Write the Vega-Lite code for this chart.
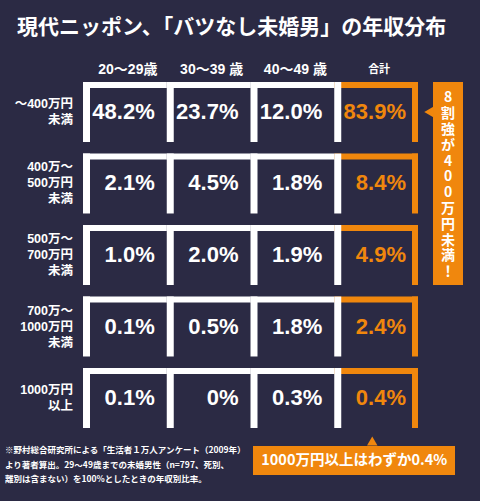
{
  "$schema": "https://vega.github.io/schema/vega-lite/v6.json",
  "width": 335,
  "height": 346,
  "autosize": "none",
  "padding": {"left": 83, "top": 82, "right": 62, "bottom": 73},
  "background": "#2b2a44",
  "config": {"view": {"stroke": null}},
  "title": {
    "text": "現代ニッポン、「バツなし未婚男」の年収分布",
    "anchor": "start",
    "frame": "group",
    "dx": -66,
    "offset": 25,
    "font": "Noto Sans CJK JP",
    "fontSize": 21,
    "fontWeight": "bold",
    "color": "#ffffff"
  },
  "datasets": {
    "cells": [
      {"income": "～400万円 未満", "age": "20～29歳", "value": 48.2},
      {"income": "～400万円 未満", "age": "30～39 歳", "value": 23.7},
      {"income": "～400万円 未満", "age": "40～49 歳", "value": 12.0},
      {"income": "～400万円 未満", "age": "合計", "value": 83.9},
      {"income": "400万～ 500万円 未満", "age": "20～29歳", "value": 2.1},
      {"income": "400万～ 500万円 未満", "age": "30～39 歳", "value": 4.5},
      {"income": "400万～ 500万円 未満", "age": "40～49 歳", "value": 1.8},
      {"income": "400万～ 500万円 未満", "age": "合計", "value": 8.4},
      {"income": "500万～ 700万円 未満", "age": "20～29歳", "value": 1.0},
      {"income": "500万～ 700万円 未満", "age": "30～39 歳", "value": 2.0},
      {"income": "500万～ 700万円 未満", "age": "40～49 歳", "value": 1.9},
      {"income": "500万～ 700万円 未満", "age": "合計", "value": 4.9},
      {"income": "700万～ 1000万円 未満", "age": "20～29歳", "value": 0.1},
      {"income": "700万～ 1000万円 未満", "age": "30～39 歳", "value": 0.5},
      {"income": "700万～ 1000万円 未満", "age": "40～49 歳", "value": 1.8},
      {"income": "700万～ 1000万円 未満", "age": "合計", "value": 2.4},
      {"income": "1000万円 以上", "age": "20～29歳", "value": 0.1},
      {"income": "1000万円 以上", "age": "30～39 歳", "value": 0},
      {"income": "1000万円 以上", "age": "40～49 歳", "value": 0.3},
      {"income": "1000万円 以上", "age": "合計", "value": 0.4}
    ],
    "side": [
      {"age": "合計", "from": "～400万円 未満", "to": "500万～ 700万円 未満", "mid": "400万～ 500万円 未満", "text": "8 割 強 が 4 0 0 万 円 未 満 ！"}
    ],
    "bottom": [
      {"from": "40～49 歳", "to": "合計", "income": "1000万円 以上", "text": "1000万円以上はわずか0.4%"}
    ],
    "note": [
      {"age": "20～29歳", "income": "1000万円 以上", "text": "※野村総合研究所による「生活者１万人アンケート（2009年）\nより著者算出。29～49歳までの未婚男性（n=797、死別、\n離別は含まない）を100%としたときの年収別比率。"}
    ]
  },
  "layer": [
    {
      "data": {"name": "cells"},
      "mark": {"type": "rule", "strokeWidth": 6, "yOffset": 3},
      "encoding": {
        "x": {
          "field": "age", "type": "nominal", "bandPosition": 0, "axis": null,
          "scale": {"type": "band", "domain": ["20～29歳", "30～39 歳", "40～49 歳", "合計"], "paddingInner": 0, "paddingOuter": 0}
        },
        "x2": {"field": "age", "bandPosition": 1},
        "y": {
          "field": "income", "type": "nominal", "bandPosition": 0, "axis": null,
          "scale": {"type": "band", "domain": ["～400万円 未満", "400万～ 500万円 未満", "500万～ 700万円 未満", "700万～ 1000万円 未満", "1000万円 以上"], "paddingInner": 0.161, "paddingOuter": 0}
        },
        "color": {"condition": {"test": "datum.age === '合計'", "value": "#f0870d"}, "value": "#ffffff"}
      }
    },
    {
      "data": {"name": "cells"},
      "mark": {"type": "rule", "strokeWidth": 7, "xOffset": 3.5, "color": "#ffffff"},
      "encoding": {
        "x": {"field": "age", "type": "nominal", "bandPosition": 0, "scale": {"type": "band"}, "axis": null},
        "y": {"field": "income", "type": "nominal", "bandPosition": 0, "scale": {"type": "band"}, "axis": null},
        "y2": {"field": "income", "bandPosition": 1}
      }
    },
    {
      "data": {"name": "cells"},
      "transform": [{"filter": "datum.age === '合計'"}],
      "mark": {"type": "rule", "strokeWidth": 6, "xOffset": -3, "color": "#f0870d"},
      "encoding": {
        "x": {"field": "age", "type": "nominal", "bandPosition": 1, "scale": {"type": "band"}, "axis": null},
        "y": {"field": "income", "type": "nominal", "bandPosition": 0, "scale": {"type": "band"}, "axis": null},
        "y2": {"field": "income", "bandPosition": 1}
      }
    },
    {
      "data": {"name": "cells"},
      "transform": [{"filter": "datum.income === '～400万円 未満'"}],
      "mark": {
        "type": "text", "align": "center", "baseline": "middle", "dx": 3, "dy": -12,
        "font": "Liberation Sans, Noto Sans CJK JP, sans-serif", "fontWeight": "bold", "color": "#ffffff"
      },
      "encoding": {
        "x": {"field": "age", "type": "nominal", "bandPosition": 0.5, "scale": {"type": "band"}, "axis": null},
        "y": {"field": "income", "type": "nominal", "bandPosition": 0, "scale": {"type": "band"}, "axis": null},
        "text": {"field": "age"},
        "size": {"condition": {"test": "datum.age === '合計'", "value": 11}, "value": 14}
      }
    },
    {
      "data": {"name": "cells"},
      "transform": [{"filter": "datum.age === '20～29歳'"}],
      "mark": {
        "type": "text", "align": "right", "baseline": "middle", "dx": -10,
        "dy": {"expr": "-(length(split(datum.income, ' ')) - 1) * 8"},
        "lineBreak": " ", "lineHeight": 16,
        "font": "Liberation Sans, Noto Sans CJK JP, sans-serif", "fontSize": 12.5, "fontWeight": "bold", "color": "#ffffff"
      },
      "encoding": {
        "x": {"field": "age", "type": "nominal", "bandPosition": 0, "scale": {"type": "band"}, "axis": null},
        "y": {"field": "income", "type": "nominal", "bandPosition": 0.5, "scale": {"type": "band"}, "axis": null},
        "text": {"field": "income"}
      }
    },
    {
      "data": {"name": "cells"},
      "transform": [{"calculate": "datum.value === 0 ? '0%' : format(datum.value, '.1f') + '%'", "as": "label"}],
      "mark": {
        "type": "text", "align": "right", "baseline": "middle", "dx": -12,
        "font": "Liberation Sans, sans-serif",
        "fontSize": 22, "fontWeight": "bold"
      },
      "encoding": {
        "x": {"field": "age", "type": "nominal", "bandPosition": 1, "scale": {"type": "band"}, "axis": null},
        "y": {"field": "income", "type": "nominal", "bandPosition": 0.5, "scale": {"type": "band"}, "axis": null},
        "text": {"field": "label"},
        "color": {"condition": {"test": "datum.age === '合計'", "value": "#f0870d"}, "value": "#ffffff"}
      }
    },
    {
      "data": {"name": "side"},
      "mark": {"type": "rect", "color": "#f0870d", "xOffset": 15, "x2Offset": 45},
      "encoding": {
        "x": {"field": "age", "type": "nominal", "bandPosition": 1, "scale": {"type": "band"}, "axis": null},
        "x2": {"field": "age", "bandPosition": 1},
        "y": {"field": "from", "type": "nominal", "bandPosition": 0, "scale": {"type": "band"}, "axis": null},
        "y2": {"field": "to", "bandPosition": 1}
      }
    },
    {
      "data": {"name": "side"},
      "mark": {"type": "point", "shape": "triangle-left", "filled": true, "opacity": 1, "size": 120, "color": "#f0870d", "xOffset": 11},
      "encoding": {
        "x": {"field": "age", "type": "nominal", "bandPosition": 1, "scale": {"type": "band"}, "axis": null},
        "y": {"field": "from", "type": "nominal", "bandPosition": 0.5, "scale": {"type": "band"}, "axis": null}
      }
    },
    {
      "data": {"name": "side"},
      "mark": {
        "type": "text", "align": "center", "baseline": "middle", "dx": 30, "dy": -85,
        "lineBreak": " ", "lineHeight": 15.8,
        "font": "Noto Sans CJK JP", "fontSize": 14, "fontWeight": "bold", "color": "#ffffff"
      },
      "encoding": {
        "x": {"field": "age", "type": "nominal", "bandPosition": 1, "scale": {"type": "band"}, "axis": null},
        "y": {"field": "mid", "type": "nominal", "bandPosition": 0.5, "scale": {"type": "band"}, "axis": null},
        "text": {"field": "text"}
      }
    },
    {
      "data": {"name": "bottom"},
      "mark": {"type": "rect", "color": "#f0870d", "xOffset": 2.5, "x2Offset": 37, "yOffset": 18, "y2Offset": 47},
      "encoding": {
        "x": {"field": "from", "type": "nominal", "bandPosition": 0, "scale": {"type": "band"}, "axis": null},
        "x2": {"field": "to", "bandPosition": 1},
        "y": {"field": "income", "type": "nominal", "bandPosition": 1, "scale": {"type": "band"}, "axis": null},
        "y2": {"field": "income", "bandPosition": 1}
      }
    },
    {
      "data": {"name": "bottom"},
      "mark": {"type": "point", "shape": "triangle-up", "filled": true, "opacity": 1, "size": 110, "color": "#f0870d", "xOffset": 38, "yOffset": 13},
      "encoding": {
        "x": {"field": "to", "type": "nominal", "bandPosition": 0, "scale": {"type": "band"}, "axis": null},
        "y": {"field": "income", "type": "nominal", "bandPosition": 1, "scale": {"type": "band"}, "axis": null}
      }
    },
    {
      "data": {"name": "bottom"},
      "mark": {
        "type": "text", "align": "center", "baseline": "middle", "dx": 20, "dy": 32.5,
        "font": "Noto Sans CJK JP", "fontSize": 14.5, "fontWeight": "bold", "color": "#ffffff"
      },
      "encoding": {
        "x": {"field": "to", "type": "nominal", "bandPosition": 0, "scale": {"type": "band"}, "axis": null},
        "y": {"field": "income", "type": "nominal", "bandPosition": 1, "scale": {"type": "band"}, "axis": null},
        "text": {"field": "text"}
      }
    },
    {
      "data": {"name": "note"},
      "mark": {
        "type": "text", "align": "left", "baseline": "top", "dx": -78, "dy": 18,
        "lineBreak": "\n", "lineHeight": 14.5,
        "font": "Noto Sans CJK JP", "fontSize": 8.5, "fontWeight": "bold", "color": "#ffffff"
      },
      "encoding": {
        "x": {"field": "age", "type": "nominal", "bandPosition": 0, "scale": {"type": "band"}, "axis": null},
        "y": {"field": "income", "type": "nominal", "bandPosition": 1, "scale": {"type": "band"}, "axis": null},
        "text": {"field": "text"}
      }
    }
  ]
}
